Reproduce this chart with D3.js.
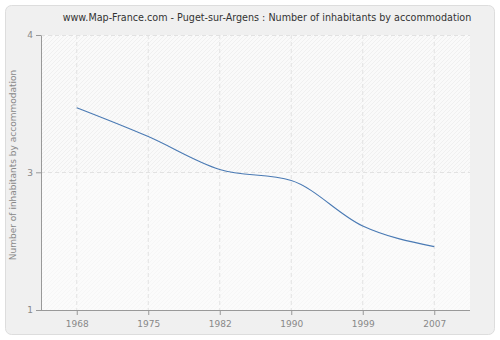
<!DOCTYPE html>
<html>
<head>
<meta charset="utf-8">
<script src="https://cdn.jsdelivr.net/npm/d3@7"></script>
<style>
  html, body { margin: 0; padding: 0; background: #ffffff; }
  svg { display: block; }
</style>
</head>
<body>
<div id="chart"></div>
<script>
// Average number of inhabitants per accommodation, Puget-sur-Argens
const years = ["1968", "1975", "1982", "1990", "1999", "2007"];
const inhabitantsPerHome = [3.47, 3.26, 3.02, 2.88, 2.22, 1.92];
const yTicks = [1, 3, 4];
const titleText = "www.Map-France.com - Puget-sur-Argens : Number of inhabitants by accommodation";
const yAxisTitle = "Number of inhabitants by accommodation";

const W = 500, H = 340;
const plot = { left: 41, right: 470, top: 35, bottom: 310 };
const FONT = "'DejaVu Sans', Verdana, sans-serif";

const svg = d3.select("#chart").append("svg")
  .attr("width", W).attr("height", H);

const defs = svg.append("defs");
function hatch(id, bg, line) {
  const p = defs.append("pattern")
    .attr("id", id).attr("patternUnits", "userSpaceOnUse")
    .attr("width", 4).attr("height", 4);
  p.append("rect").attr("width", 4).attr("height", 4).attr("fill", bg);
  p.append("path").attr("d", "M-1,1 L1,-1 M0,4 L4,0 M3,5 L5,3")
    .attr("stroke", line).attr("stroke-width", 0.7);
}
hatch("hatchTop", "#fafafa", "#ececec");
hatch("hatchBottom", "#fbfbfb", "#f3f3f3");

// outer panel
svg.append("rect")
  .attr("x", 5.5).attr("y", 5.5).attr("width", 489).attr("height", 329)
  .attr("rx", 6).attr("fill", "#f0f0f0").attr("stroke", "#dddddd");

const x = d3.scalePoint().domain(years).range([plot.left, plot.right]).padding(0.5);
// piecewise scale following the axis labels
const y = d3.scaleLinear().domain([1, 3, 4]).range([plot.bottom, 172.3, plot.top]);

// plot background, two bands split at the middle label
svg.append("rect")
  .attr("x", plot.left).attr("y", plot.top)
  .attr("width", plot.right - plot.left).attr("height", y(3) - plot.top)
  .attr("fill", "url(#hatchTop)");
svg.append("rect")
  .attr("x", plot.left).attr("y", y(3))
  .attr("width", plot.right - plot.left).attr("height", plot.bottom - y(3))
  .attr("fill", "url(#hatchBottom)");

// grid
const grid = svg.append("g").attr("stroke", "#e2e2e2").attr("stroke-dasharray", "4,3");
grid.selectAll("line.v").data(years).join("line")
  .attr("x1", d => x(d)).attr("x2", d => x(d))
  .attr("y1", plot.top).attr("y2", plot.bottom);
grid.selectAll("line.h").data(yTicks.filter(t => t !== 1)).join("line")
  .attr("x1", plot.left).attr("x2", plot.right)
  .attr("y1", d => Math.round(y(d)) + 0.5).attr("y2", d => Math.round(y(d)) + 0.5);

// axes
const xAxis = svg.append("g")
  .attr("transform", `translate(0,${plot.bottom})`)
  .call(d3.axisBottom(x).tickSize(5).tickSizeOuter(0));
const yAxis = svg.append("g")
  .attr("transform", `translate(${plot.left},0)`)
  .call(d3.axisLeft(y).tickValues(yTicks).tickFormat(d3.format("d")).tickSize(5).tickSizeOuter(0));

[xAxis, yAxis].forEach(g => {
  g.select(".domain").attr("stroke", "#999999");
  g.selectAll(".tick line").attr("stroke", "#999999");
  g.selectAll(".tick text")
    .attr("fill", "#888888")
    .style("font-family", FONT)
    .style("font-size", "9px");
});
xAxis.select(".domain").attr("d", `M${plot.left},0.5H${plot.right}`);
xAxis.selectAll(".tick text").attr("dy", "1.05em");
yAxis.selectAll(".tick text").attr("x", -8);

// series line
const line = d3.line()
  .x((d, i) => x(years[i]))
  .y(d => y(d))
  .curve(d3.curveMonotoneX);
svg.append("path")
  .datum(inhabitantsPerHome)
  .attr("d", line)
  .attr("fill", "none")
  .attr("stroke", "#4a7ab4")
  .attr("stroke-width", 1.1);

// title
svg.append("text")
  .attr("x", 267).attr("y", 21)
  .attr("text-anchor", "middle")
  .attr("fill", "#333333")
  .style("font-family", FONT)
  .style("font-size", "9.6px")
  .text(titleText);

// y axis title
svg.append("text")
  .attr("transform", `translate(16,165) rotate(-90)`)
  .attr("text-anchor", "middle")
  .attr("fill", "#888888")
  .style("font-family", FONT)
  .style("font-size", "9px")
  .text(yAxisTitle);
</script>
</body>
</html>
